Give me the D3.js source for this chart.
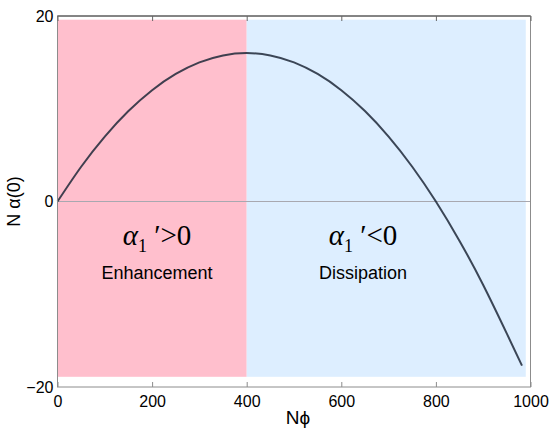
<!DOCTYPE html>
<html>
<head>
<meta charset="utf-8">
<script src="https://cdn.jsdelivr.net/npm/d3@7"></script>
<style>
  body { margin: 0; background: #fff; }
  svg text { font-family: "Liberation Sans", Arial, sans-serif; }
</style>
</head>
<body>
<div id="chart"></div>
<script>
// curve values
const n_phi = [0, 50, 100, 150, 200, 250, 300, 350, 400, 450, 500, 550, 600, 650, 700, 750, 800, 850, 900, 950, 982];
const n_alpha = [0, 3.75, 7.0, 9.75, 12.0, 13.75, 15.0, 15.75, 16.0, 15.75, 15.0, 13.75, 12.0, 9.75, 7.0, 3.75, 0, -4.25, -9.0, -14.25, -17.7];

// shaded regions
const regions = [
  { x0: 0, x1: 400, y0: -18.9, y1: 19.6, fill: "#ffbfcd", label: "Enhancement", sign: ">" },
  { x0: 400, x1: 990, y0: -18.9, y1: 19.6, fill: "#ddeeff", label: "Dissipation", sign: "<" }
];

const x_ticks = [0, 200, 400, 600, 800, 1000];
const y_ticks = [-20, 0, 20];

const width = 550;
const height = 429;
const margin = { left: 57.5, right: 19.5, top: 16, bottom: 42 };

const svg = d3.select("#chart")
  .append("svg")
  .attr("width", width)
  .attr("height", height);

const x = d3.scaleLinear().domain([0, 1000]).range([margin.left, width - margin.right]);
const y = d3.scaleLinear().domain([-20, 20]).range([height - margin.bottom, margin.top]);

// backgrounds
svg.selectAll("rect.region")
  .data(regions)
  .enter()
  .append("rect")
  .attr("class", "region")
  .attr("x", (d) => x(d.x0))
  .attr("width", (d) => x(d.x1) - x(d.x0))
  .attr("y", (d) => y(d.y1))
  .attr("height", (d) => y(d.y0) - y(d.y1))
  .attr("fill", (d) => d.fill);

// zero line
svg.append("line")
  .attr("x1", x(0)).attr("x2", x(1000))
  .attr("y1", y(0)).attr("y2", y(0))
  .attr("stroke", "#a8a8b0")
  .attr("stroke-width", 1);

// curve
const line = d3.line()
  .x((d, i) => x(n_phi[i]))
  .y((d) => y(d))
  .curve(d3.curveNatural);

svg.append("path")
  .datum(n_alpha)
  .attr("d", line)
  .attr("fill", "none")
  .attr("stroke", "#1e2838")
  .attr("stroke-opacity", 0.85)
  .attr("stroke-width", 2);

// frame
svg.append("rect")
  .attr("x", x(0)).attr("y", y(20))
  .attr("width", x(1000) - x(0))
  .attr("height", y(-20) - y(20))
  .attr("fill", "none")
  .attr("stroke", "#8c8c8c")
  .attr("stroke-width", 1);
svg.append("line")
  .attr("x1", x(0)).attr("x2", x(1000))
  .attr("y1", y(20)).attr("y2", y(20))
  .attr("stroke", "#444")
  .attr("stroke-width", 1);

// x axis (ticks inside)
const xaxis = svg.append("g")
  .attr("transform", `translate(0,${y(-20)})`)
  .call(d3.axisBottom(x).tickValues(x_ticks).tickSize(-5).tickPadding(9)
    .tickFormat(d3.format("d")).tickSizeOuter(0));
xaxis.select(".domain").remove();
xaxis.selectAll(".tick line").attr("stroke", "#8c8c8c");
xaxis.selectAll("text").attr("font-size", 16).attr("fill", "#000");

const xtop = svg.append("g")
  .attr("transform", `translate(0,${y(20)})`)
  .call(d3.axisTop(x).tickValues(x_ticks).tickSize(-5).tickFormat(""));
xtop.select(".domain").remove();
xtop.selectAll(".tick line").attr("stroke", "#666");

// y axis
const yaxis = svg.append("g")
  .attr("transform", `translate(${x(0)},0)`)
  .call(d3.axisLeft(y).tickValues(y_ticks).tickSize(0).tickPadding(4));
yaxis.select(".domain").remove();
yaxis.selectAll("text").attr("font-size", 16).attr("fill", "#000");

// axis titles
svg.append("text")
  .attr("x", 298).attr("y", 424)
  .attr("text-anchor", "middle")
  .attr("font-size", 19)
  .text("Nϕ");

svg.append("text")
  .attr("transform", `translate(20,${y(0)}) rotate(-90)`)
  .attr("text-anchor", "middle")
  .attr("font-size", 18)
  .text("N α(0)");

// region annotations
const ann = svg.selectAll("g.ann")
  .data(regions)
  .enter()
  .append("g")
  .attr("class", "ann")
  .attr("transform", (d) => `translate(${(d.x0 === 0) ? 157 : 363},0)`);

const formula = ann.append("text")
  .attr("y", 245)
  .attr("text-anchor", "middle")
  .style("font-family", "'Liberation Serif', 'DejaVu Serif', serif")
  .attr("font-size", 29);
formula.append("tspan").attr("font-style", "italic").text("α");
formula.append("tspan").attr("font-size", 18).attr("dy", 7).text("1");
formula.append("tspan").attr("dy", -7).text(" ′");
formula.append("tspan").text((d) => d.sign + "0");

ann.append("text")
  .attr("y", 279)
  .attr("text-anchor", "middle")
  .attr("font-size", 18)
  .text((d) => d.label);
</script>
</body>
</html>
